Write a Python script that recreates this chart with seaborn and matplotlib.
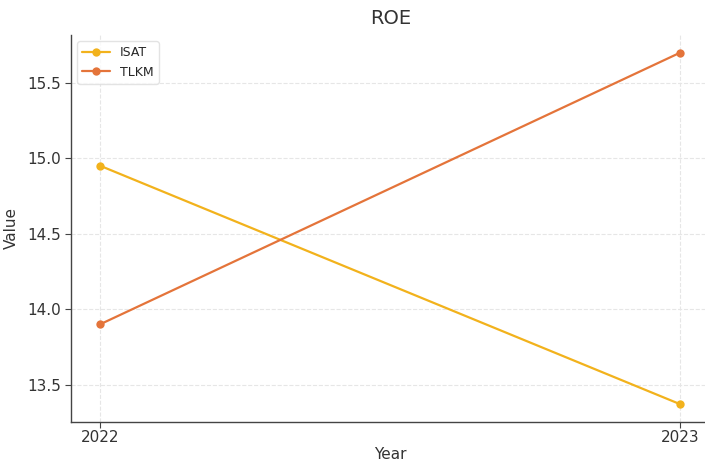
import matplotlib.pyplot as plt
import seaborn as sns
import pandas as pd

years = [2022, 2023]
isat = [14.95, 13.37]
tlkm = [13.90, 15.70]
companies = ["ISAT", "TLKM"]
colors = ["#f2b21c", "#e4743a"]

df = pd.DataFrame({
    "Year": years * 2,
    "Value": isat + tlkm,
    "Company": [companies[0]] * 2 + [companies[1]] * 2,
})

sns.set_style("ticks")
plt.rcParams["font.family"] = ["DejaVu Sans"]

fig = plt.figure(figsize=(7.05, 4.61), dpi=100)
ax = fig.add_axes([0.101, 0.085, 0.905, 0.839])

sns.lineplot(data=df, x="Year", y="Value", hue="Company", palette=colors,
             marker="o", markersize=6, markeredgewidth=0, linewidth=1.6, ax=ax)

ax.grid(True, linestyle="--", color="#e6e6e6", linewidth=0.8)
ax.set_axisbelow(True)
for s in ["top", "right"]:
    ax.spines[s].set_visible(False)
for s in ["left", "bottom"]:
    ax.spines[s].set_color("#444444")
    ax.spines[s].set_linewidth(1.0)

ax.set_xticks(years)
ax.set_xticklabels([str(y) for y in years])
ax.set_yticks([13.5, 14.0, 14.5, 15.0, 15.5])
ax.tick_params(labelsize=11, length=4, color="#444444", labelcolor="#333333")
ax.tick_params(axis="x", pad=2)
ax.set_title("ROE", fontsize=14, color="#333333", pad=8)
ax.set_xlabel("Year", fontsize=11, color="#333333", labelpad=1)
ax.set_ylabel("Value", fontsize=11, color="#333333", labelpad=6)

leg = ax.legend(loc="upper left", fontsize=9, frameon=True, handlelength=2.2)
leg.get_frame().set_edgecolor("#dddddd")

fig.savefig("out.png", dpi=100)
